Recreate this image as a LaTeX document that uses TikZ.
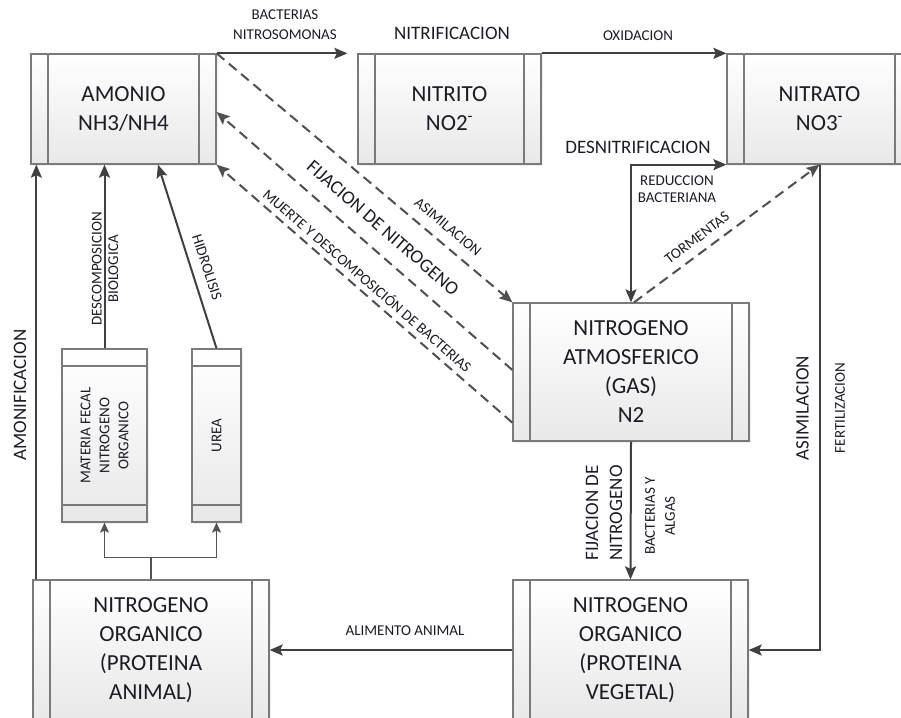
\documentclass[tikz,border=0pt]{standalone}
\usepackage{fontspec}
\setmainfont{Carlito}
\usetikzlibrary{arrows.meta,shadows}
\definecolor{ink}{HTML}{1C1C28}
\definecolor{wire}{HTML}{404040}
\definecolor{dashwire}{HTML}{505050}
\definecolor{edge}{HTML}{7A7A7A}

\tikzset{
  % process box with two narrow side bars
  procbox/.style={draw=edge, line width=1.3pt, top color=white, bottom color=black!9,
    inner sep=0pt, align=center, text=ink, font=\fontsize{23}{29}\selectfont,
    drop shadow={opacity=0.12, shadow xshift=2pt, shadow yshift=-2pt},
    path picture={
      \draw[edge, line width=1.3pt]
        ([xshift=17pt]path picture bounding box.north west) -- ([xshift=17pt]path picture bounding box.south west)
        ([xshift=-17pt]path picture bounding box.north east) -- ([xshift=-17pt]path picture bounding box.south east);}},
  % upright box with bars at top and bottom
  tallbox/.style={draw=edge, line width=1.3pt, top color=white, bottom color=black!9,
    inner sep=0pt, align=center, text=ink,
    drop shadow={opacity=0.12, shadow xshift=2pt, shadow yshift=-2pt},
    path picture={
      \draw[edge, line width=1.3pt]
        ([yshift=-17pt]path picture bounding box.north west) -- ([yshift=-17pt]path picture bounding box.north east)
        ([yshift=17pt]path picture bounding box.south west) -- ([yshift=17pt]path picture bounding box.south east);}},
  arr/.style={draw=wire, line width=2pt, -{Stealth[length=13pt,width=11pt,inset=2.5pt]}},
  dasharr/.style={draw=dashwire, line width=2pt, dash pattern=on 10pt off 6pt,
    -{Stealth[length=13pt,width=11pt,inset=2.5pt]}},
  thinarr/.style={draw=wire!90, line width=1.2pt, -{Stealth[length=10pt,width=9pt,inset=2pt]}},
  lbl/.style={font=\fontsize{15}{17}\selectfont, text=ink, inner sep=0pt, align=center},
  mlbl/.style={font=\fontsize{19}{24}\selectfont, text=ink, inner sep=0pt, align=center},
}

\begin{document}
\begin{tikzpicture}[x=1pt, y=-1pt]
\useasboundingbox (0,0) rectangle (901,717);
\fill[white] (0,0) rectangle (901,717);

% ---- boxes ----
\node[procbox, minimum width=185pt, minimum height=110pt] (amonio) at (123.5,109) {AMONIO\\NH3/NH4};
\node[procbox, minimum width=183pt, minimum height=110pt] (nitrito) at (449.5,109) {NITRITO\\NO2\textsuperscript{-}};
\node[procbox, minimum width=185pt, minimum height=110pt] (nitrato) at (819.5,109) {NITRATO\\NO3\textsuperscript{-}};
\node[procbox, minimum width=236pt, minimum height=138pt] (atmos) at (631,372) {NITROGENO\\ATMOSFERICO\\(GAS)\\N2};
\node[procbox, minimum width=235pt, minimum height=140pt] (vegetal) at (630.5,650) {NITROGENO\\ORGANICO\\(PROTEINA\\VEGETAL)};
\node[procbox, minimum width=236pt, minimum height=140pt] (animal) at (151,650) {NITROGENO\\ORGANICO\\(PROTEINA\\ANIMAL)};
\node[tallbox, minimum width=85pt, minimum height=173pt] (fecal) at (104.5,435.5) {};
\node[lbl, rotate=90, font=\fontsize{15}{19}\selectfont] at (fecal.center) {MATERIA FECAL\\NITROGENO\\ORGANICO};
\node[tallbox, minimum width=49pt, minimum height=173pt] (urea) at (216.5,435.5) {};
\node[lbl, rotate=90] at (urea.center) {UREA};

% ---- nitrification chain ----
\draw[arr] (amonio.north east) -- ([xshift=-10pt]nitrito.north west);
\node[lbl, font=\fontsize{15}{20}\selectfont] at (285,25) {BACTERIAS\\NITROSOMONAS};
\node[mlbl] at (452,33) {NITRIFICACION};

\draw[arr] (nitrito.north east) -- (nitrato.north west);
\node[lbl] at (638,36) {OXIDACION};

% ---- denitrification ----
\draw[arr, {Stealth[length=13pt,width=11pt,inset=2.5pt]}-{Stealth[length=13pt,width=11pt,inset=2.5pt]}]
  (atmos.north) |- (nitrato.south west);
\node[mlbl] at (638,147) {DESNITRIFICACION};
\node[lbl] at (677,189) {REDUCCION\\BACTERIANA};

% ---- storms ----
\draw[dasharr] ([xshift=3pt]atmos.north) -- (nitrato.south);
\node[lbl, rotate=37] at (697,238) {TORMENTAS};

% ---- assimilation / fertilisation ----
\draw[arr] (nitrato.south) |- (vegetal.east);
\node[mlbl, rotate=90] at (802.5,408) {ASIMILACION};
\node[lbl, rotate=90] at (840,408) {FERTILIZACION};

% ---- fixation by bacteria and algae ----
\draw[arr] (atmos.south) -- (vegetal.north);
\node[mlbl, rotate=90] at (604,513) {FIJACION DE\\NITROGENO};
\node[lbl, rotate=90, font=\fontsize{15}{20}\selectfont] at (660,516) {BACTERIAS Y\\ALGAS};

% ---- animal feed ----
\draw[arr] (vegetal.west) -- (animal.east);
\node[lbl] at (405,631) {ALIMENTO ANIMAL};

% ---- animal products ----
\coordinate (split) at ([yshift=22pt]animal.north);
\draw[wire!90, line width=1.2pt] (animal.north) -- (split);
\draw[thinarr] (split) -| (fecal.south);
\draw[thinarr] (split) -| (urea.south);

% ---- back to ammonium ----
\coordinate (amfoot) at ([xshift=4pt]animal.north west);
\draw[arr] (amfoot) -- (amfoot |- amonio.south);
\node[mlbl, rotate=90] at (20,395) {AMONIFICACION};

\draw[arr] (fecal.north) -- (fecal.north |- amonio.south);
\node[lbl, rotate=90, font=\fontsize{15}{16.5}\selectfont] at (105,269) {DESCOMPOSICION\\BIOLOGICA};

\draw[arr] (urea.north) -- ([xshift=34.5pt]amonio.south);
\node[lbl, rotate=-72] at (207,267) {HIDROLISIS};

% ---- dashed exchanges between ammonium and atmosphere ----
\draw[dasharr] (amonio.north east) -- (atmos.north west);
\node[lbl, rotate=-40] at (448,227) {ASIMILACION};

\draw[dasharr] ([yshift=2pt]atmos.west) -- ([yshift=-3pt]amonio.east);
\node[mlbl, rotate=-41] at (383,228) {FIJACION DE NITROGENO};

\draw[dasharr] ([yshift=19pt]atmos.south west) -- (amonio.south east);
\node[lbl, rotate=-41] at (368,280) {MUERTE Y DESCOMPOSICIÓN DE BACTERIAS};
\end{tikzpicture}
\end{document}
